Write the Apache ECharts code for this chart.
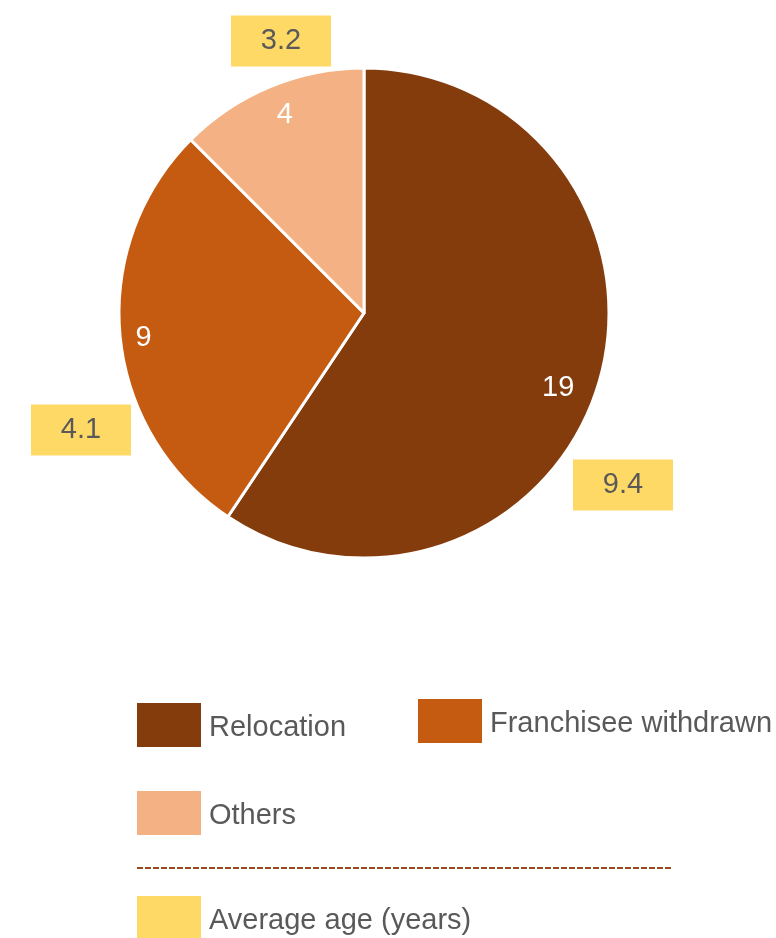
<!DOCTYPE html>
<html>
<head>
<meta charset="utf-8">
<script src="https://cdn.jsdelivr.net/npm/echarts@6/dist/echarts.min.js"></script>
<style>
  html, body { margin: 0; padding: 0; background: #fff; }
  #chart { width: 776px; height: 938px; }
</style>
</head>
<body>
<div id="chart"></div>
<script>
// Closure reasons: number of stores and their average age
const categories = ['Relocation', 'Franchisee withdrawn', 'Others'];
const storeCounts = [19, 9, 4];
const averageAges = [9.4, 4.1, 3.2];
const sliceColors = ['#843C0C', '#C55A11', '#F4B183'];
const ageLabelColor = '#FFD966';
const ageSeriesName = 'Average age (years)';

// Layout constants
const pieCenter = [364, 313];
const pieRadius = 245;
// Average-age tags: offset of each tag's centre from the pie centre
const ageTagOffset = [[259, 172], [-283, 117], [-83, -272]];
// Small nudges for the count labels inside the slices
const countLabelNudge = [[-14, 12], [-4, 4], [4, 3]];

const textGray = '#595959';
const fontFamily = 'Liberation Sans, Arial, sans-serif';

const sliceData = categories.map((name, i) => ({
  name, value: storeCounts[i], itemStyle: { color: sliceColors[i] }
}));

const chart = echarts.init(document.getElementById('chart'), null, { renderer: 'canvas' });

function legendBox(name, left, top, color) {
  const item = color ? { name, itemStyle: { color } } : name;
  return {
    data: [item],
    left, top,
    padding: 0,
    orient: 'horizontal',
    icon: 'rect',
    itemWidth: 64,
    itemHeight: 44,
    selectedMode: false,
    itemStyle: { borderWidth: 0 },
    formatter: '{t|{name}}',
    textStyle: {
      fontSize: 29, color: textGray, fontFamily,
      rich: { t: { fontSize: 29, color: textGray, fontFamily, padding: [6, 0, 0, 3] } }
    }
  };
}

chart.setOption({
  animation: false,
  backgroundColor: '#ffffff',
  legend: [
    legendBox('Relocation', 137, 703),
    legendBox('Franchisee withdrawn', 418, 699),
    legendBox('Others', 137, 791),
    legendBox(ageSeriesName, 137, 896, ageLabelColor)
  ],
  graphic: [{
    type: 'line',
    shape: { x1: 137, y1: 868, x2: 672, y2: 868 },
    style: { stroke: '#9A4A1C', lineWidth: 2, lineDash: [6, 2] },
    silent: true
  }],
  series: [
    {
      // Store counts per closure reason
      name: 'Stores',
      type: 'pie',
      center: pieCenter,
      radius: [0, pieRadius],
      startAngle: 90,
      clockwise: true,
      avoidLabelOverlap: false,
      label: { show: false },
      labelLine: { show: false },
      itemStyle: { borderColor: '#ffffff', borderWidth: 3 },
      emphasis: { disabled: true },
      data: sliceData
    },
    {
      // Value labels placed near the rim
      name: 'Store count labels',
      type: 'pie',
      center: pieCenter,
      radius: [184, pieRadius],
      startAngle: 90,
      clockwise: true,
      silent: true,
      avoidLabelOverlap: false,
      itemStyle: { color: 'transparent', borderWidth: 0 },
      label: {
        show: true,
        position: 'inside',
        formatter: '{c}',
        color: '#ffffff',
        fontSize: 29,
        fontFamily
      },
      labelLine: { show: false },
      labelLayout: (params) => {
        const n = countLabelNudge[params.dataIndex];
        return { dx: n[0], dy: n[1] };
      },
      emphasis: { disabled: true },
      data: categories.map((name, i) => ({ name, value: storeCounts[i] }))
    },
    {
      // Average age tags
      name: ageSeriesName,
      type: 'pie',
      center: pieCenter,
      radius: [0, pieRadius],
      startAngle: 90,
      clockwise: true,
      silent: true,
      avoidLabelOverlap: false,
      itemStyle: { color: 'transparent', borderWidth: 0 },
      label: {
        show: true,
        position: 'outside',
        formatter: (p) => String(averageAges[p.dataIndex]),
        color: textGray,
        fontSize: 29,
        fontFamily,
        backgroundColor: ageLabelColor,
        width: 100,
        height: 51,
        lineHeight: 51,
        align: 'center',
        verticalAlign: 'middle',
        padding: 0
      },
      labelLine: { show: false },
      labelLayout: (params) => {
        const off = ageTagOffset[params.dataIndex];
        return {
          x: pieCenter[0] + off[0],
          y: pieCenter[1] + off[1],
          align: 'center',
          verticalAlign: 'middle'
        };
      },
      emphasis: { disabled: true },
      data: categories.map((name, i) => ({ name, value: storeCounts[i] }))
    }
  ]
});
</script>
</body>
</html>
